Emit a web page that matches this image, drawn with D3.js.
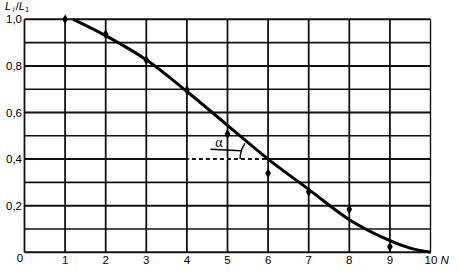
<!DOCTYPE html>
<html lang="en">
<head>
<meta charset="UTF-8">
<title>Li/L1 vs N</title>
<script src="https://d3js.org/d3.v7.min.js"></script>
<style>
  body { margin: 0; background: #fff; }
  svg { display: block; font-family: 'Liberation Sans', Arial, sans-serif; }
</style>
</head>
<body>
<div id="chart"></div>
<script>
// measured points
const measuredN = [1, 2, 3, 4, 5, 6, 7, 8, 9];
const measuredRatio = [1.0, 0.936, 0.825, 0.697, 0.508, 0.339, 0.26, 0.185, 0.024];

// fitted curve
const curveN = [1.2, 2, 3, 4, 5, 6, 7, 8, 9, 9.5, 10];
const curveRatio = [1.0, 0.93, 0.826, 0.69, 0.545, 0.40, 0.27, 0.14, 0.05, 0.018, 0];

const xTicks = [1, 2, 3, 4, 5, 6, 7, 8, 9];
const yTickValues = [1.0, 0.8, 0.6, 0.4, 0.2];
const yTickLabels = ["1,0", "0,8", "0,6", "0,4", "0,2"];

const alphaLevel = 0.4;   // dashed reference line
const alphaFrom = 4;

const width = 459, height = 273;
const x = d3.scaleLinear().domain([0, 10]).range([24.5, 430.5]);
const y = d3.scaleLinear().domain([0, 1]).range([252.3, 19.3]);

const svg = d3.select("#chart").append("svg")
  .attr("width", width).attr("height", height);

// grid
const grid = svg.append("g").attr("stroke", "#111");
grid.selectAll("line.h")
  .data(d3.range(0, 11).map(i => i / 10))
  .enter().append("line")
  .attr("x1", x(0)).attr("x2", x(10))
  .attr("y1", d => y(d)).attr("y2", d => y(d))
  .attr("stroke-width", (d, i) => i % 2 === 0 ? 2 : 1.6);
grid.selectAll("line.v")
  .data(d3.range(0, 11))
  .enter().append("line")
  .attr("y1", y(0)).attr("y2", y(1))
  .attr("x1", d => x(d)).attr("x2", d => x(d))
  .attr("stroke-width", d => d === 10 ? 1.4 : 1.8);

// dashed stretch on 0,4 line
svg.append("line")
  .attr("x1", x(alphaFrom) + 2).attr("x2", x(6) - 4)
  .attr("y1", y(alphaLevel)).attr("y2", y(alphaLevel))
  .attr("stroke", "#fff").attr("stroke-width", 2.5)
  .attr("stroke-dasharray", "3,4");

// curve
const line = d3.line()
  .x((d, i) => x(curveN[i]))
  .y(d => y(d))
  .curve(d3.curveCatmullRom);
svg.append("path")
  .datum(curveRatio)
  .attr("d", line)
  .attr("fill", "none")
  .attr("stroke", "#000")
  .attr("stroke-width", 3);

// points
svg.selectAll("path.pt")
  .data(measuredN)
  .enter().append("path")
  .attr("transform", (d, i) => `translate(${x(d)},${y(measuredRatio[i])})`)
  .attr("d", d3.symbol().type(d3.symbolDiamond).size(28))
  .attr("fill", "#000");

// alpha angle
const cx = x(6), cy = y(alphaLevel), r = 28;
const arc = d3.arc().innerRadius(r).outerRadius(r)
  .startAngle(-Math.PI / 2).endAngle(-Math.PI / 2 + 0.6);
svg.append("path")
  .attr("transform", `translate(${cx},${cy})`)
  .attr("d", arc)
  .attr("fill", "none").attr("stroke", "#000").attr("stroke-width", 1.4);
svg.append("line")
  .attr("x1", 210.5).attr("y1", 149.3).attr("x2", cx - r + 1).attr("y2", 150.7)
  .attr("stroke", "#000").attr("stroke-width", 1.4);
svg.append("text")
  .attr("x", 219).attr("y", 147)
  .attr("text-anchor", "middle")
  .attr("font-family", "'Liberation Serif', serif")
  .attr("font-size", 14)
  .text("α");

// y tick labels
svg.selectAll("text.yt")
  .data(yTickValues)
  .enter().append("text")
  .attr("x", 22).attr("y", d => y(d) + 4)
  .attr("text-anchor", "end")
  .attr("font-size", 11.5)
  .text((d, i) => yTickLabels[i]);
svg.append("text")
  .attr("x", 20).attr("y", 261.5)
  .attr("text-anchor", "middle")
  .attr("font-size", 11.5)
  .text("0");

// x tick labels
svg.selectAll("text.xt")
  .data(xTicks)
  .enter().append("text")
  .attr("x", d => x(d)).attr("y", 264)
  .attr("text-anchor", "middle")
  .attr("font-size", 11.5)
  .text(d => d);
const xl = svg.append("text")
  .attr("x", x(10) - 6).attr("y", 264)
  .attr("font-size", 11.5);
xl.append("tspan").text("10 ");
xl.append("tspan").attr("font-style", "italic").text("N");

// y axis title
const yl = svg.append("text").attr("x", 5).attr("y", 9.5).attr("font-size", 11);
yl.append("tspan").attr("font-style", "italic").text("L");
yl.append("tspan").attr("font-style", "italic").attr("font-size", 7.5).attr("dx", 1.5).attr("dy", 2.5).text("i");
yl.append("tspan").attr("dx", 1.5).attr("dy", -2.5).text("/");
yl.append("tspan").attr("font-style", "italic").text("L");
yl.append("tspan").attr("font-size", 7.5).attr("dy", 2.5).text("1");
</script>
</body>
</html>
